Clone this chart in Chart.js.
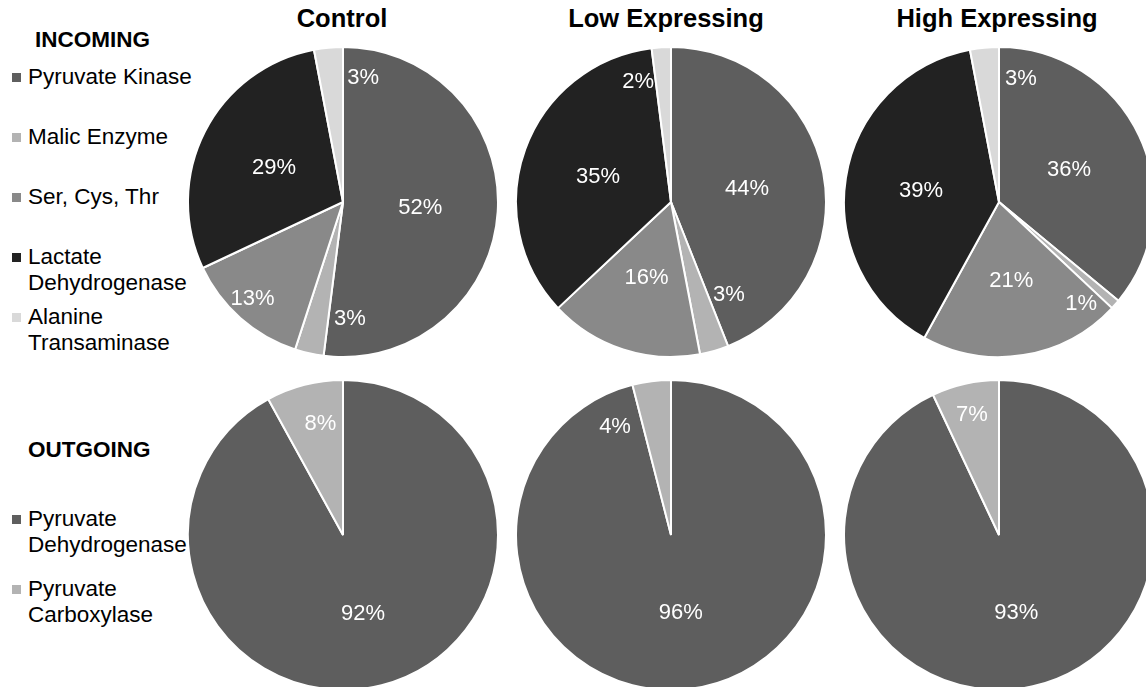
<!DOCTYPE html>
<html>
<head>
<meta charset="utf-8">
<script src="https://cdn.jsdelivr.net/npm/chart.js"></script>
<style>
    html, body {
        margin: 0;
        padding: 0;
        background: #fff;
        overflow: hidden;
    }
    #page {
        position: relative;
        width: 1146px;
        height: 687px;
        overflow: hidden;
        font-family: Arial, "Liberation Sans", sans-serif;
        color: #000;
    }
    .pie {
        position: absolute;
    }
    .title {
        position: absolute;
        top: 3px;
        width: 260px;
        margin-left: -130px;
        text-align: center;
        font-weight: bold;
        font-size: 25.5px;
        line-height: 30px;
    }
    .head {
        position: absolute;
        font-weight: bold;
        font-size: 22.5px;
        line-height: 27px;
    }
    .item {
        position: absolute;
        left: 28px;
        font-size: 22.5px;
        line-height: 26px;
        white-space: nowrap;
    }
    .mark {
        position: absolute;
        left: 12px;
        width: 9px;
        height: 9px;
    }
</style>
</head>
<body>
<div id="page">
    <div class="title" style="left:342px">Control</div>
    <div class="title" style="left:666px">Low Expressing</div>
    <div class="title" style="left:997px">High Expressing</div>

    <div class="head" style="left:35px; top:26px">INCOMING</div>
    <div class="head" style="left:28px; top:436px">OUTGOING</div>
    <div id="legend"></div>

    <canvas class="pie" id="inControl" width="312" height="312" style="left:187px; top:46px"></canvas>
    <canvas class="pie" id="inLow" width="312" height="312" style="left:515px; top:46px"></canvas>
    <canvas class="pie" id="inHigh" width="312" height="312" style="left:843px; top:46px"></canvas>
    <canvas class="pie" id="outControl" width="312" height="312" style="left:187px; top:379px"></canvas>
    <canvas class="pie" id="outLow" width="312" height="312" style="left:515px; top:379px"></canvas>
    <canvas class="pie" id="outHigh" width="312" height="312" style="left:843px; top:379px"></canvas>
</div>

<script>
// Ферменты входящего и исходящего потока пирувата
const incomingLabels = ['Pyruvate Kinase', 'Malic Enzyme', 'Ser, Cys, Thr', 'Lactate Dehydrogenase', 'Alanine Transaminase'];
const outgoingLabels = ['Pyruvate Dehydrogenase', 'Pyruvate Carboxylase'];

// Доли, %
const incomingControl = [52, 3, 13, 29, 3];
const incomingLow = [44, 3, 16, 35, 2];
const incomingHigh = [36, 1, 21, 39, 3];
const outgoingControl = [92, 8];
const outgoingLow = [96, 4];
const outgoingHigh = [93, 7];

const incomingColors = ['#5e5e5e', '#b3b3b3', '#898989', '#222222', '#d9d9d9'];
const outgoingColors = ['#5e5e5e', '#b3b3b3'];

// Подписи легенды (переносы строк как в макете)
const incomingLegendText = ['Pyruvate Kinase', 'Malic Enzyme', 'Ser, Cys, Thr', 'Lactate<br>Dehydrogenase', 'Alanine<br>Transaminase'];
const outgoingLegendText = ['Pyruvate<br>Dehydrogenase', 'Pyruvate<br>Carboxylase'];
const incomingLegendTop = [64, 124, 184, 244, 304];
const outgoingLegendTop = [506, 576];

// Положение подписей: [доля радиуса, сдвиг угла в градусах] для каждого сектора
const labelSpots = {
    inControl: [[0.5, 0], [0.75, -16], [0.85, 2], [0.5, 0], [0.82, 14.5]],
    inLow: [[0.5, 0], [0.7, -16], [0.51, 0], [0.5, 0], [0.81, -11.6]],
    inHigh: [[0.5, 0], [0.84, 9.5], [0.51, 0], [0.51, 0], [0.81, 15.4]],
    outControl: [[0.52, 0], [0.74, 3]],
    outLow: [[0.5, 0], [0.79, -20]],
    outHigh: [[0.51, 0], [0.8, 0]]
};

//Легенда слева
function fillLegend(texts, tops, colors) {
    let legend = document.getElementById('legend');
    for (let i = 0; i < texts.length; i++) {
        let mark = document.createElement('div');
        mark.className = 'mark';
        mark.style.top = (tops[i] + 9) + 'px';
        mark.style.background = colors[i];
        legend.appendChild(mark);

        let item = document.createElement('div');
        item.className = 'item';
        item.style.top = tops[i] + 'px';
        item.innerHTML = texts[i];
        legend.appendChild(item);
    }
}

//Плагин для процентов внутри секторов
const percentLabels = {
    id: 'percentLabels',
    afterDatasetsDraw(chart, args, opts) {
        const ctx = chart.ctx;
        const meta = chart.getDatasetMeta(0);
        const values = chart.data.datasets[0].data;
        ctx.save();
        ctx.font = '22px Arial, "Liberation Sans", sans-serif';
        ctx.fillStyle = '#ffffff';
        ctx.textAlign = 'center';
        ctx.textBaseline = 'middle';
        meta.data.forEach((arc, i) => {
            const p = arc.getProps(['x', 'y', 'startAngle', 'endAngle', 'outerRadius'], true);
            const spot = opts.spots[i] || [0.5, 0];
            const a = (p.startAngle + p.endAngle) / 2 + spot[1] * Math.PI / 180;
            const r = p.outerRadius * spot[0];
            ctx.fillText(values[i] + '%', p.x + Math.cos(a) * r, p.y + Math.sin(a) * r + 1);
        });
        ctx.restore();
    }
};

function drawPie(id, labels, values, colors) {
    new Chart(
        document.getElementById(id),
        {
            type: 'pie',
            data: {
                labels: labels,
                datasets: [
                    {
                        data: values,
                        backgroundColor: colors,
                        borderColor: '#ffffff',
                        borderWidth: 2,
                        offset: 0,
                        hoverOffset: 0
                    }
                ]
            },
            options: {
                responsive: false,
                animation: false,
                events: [],
                layout: {
                    padding: 0
                },
                plugins: {
                    legend: {
                        display: false
                    },
                    tooltip: {
                        enabled: false
                    },
                    percentLabels: {
                        spots: labelSpots[id]
                    }
                }
            },
            plugins: [percentLabels]
        }
    );
}

fillLegend(incomingLegendText, incomingLegendTop, incomingColors);
fillLegend(outgoingLegendText, outgoingLegendTop, outgoingColors);

drawPie('inControl', incomingLabels, incomingControl, incomingColors);
drawPie('inLow', incomingLabels, incomingLow, incomingColors);
drawPie('inHigh', incomingLabels, incomingHigh, incomingColors);
drawPie('outControl', outgoingLabels, outgoingControl, outgoingColors);
drawPie('outLow', outgoingLabels, outgoingLow, outgoingColors);
drawPie('outHigh', outgoingLabels, outgoingHigh, outgoingColors);
</script>
</body>
</html>
